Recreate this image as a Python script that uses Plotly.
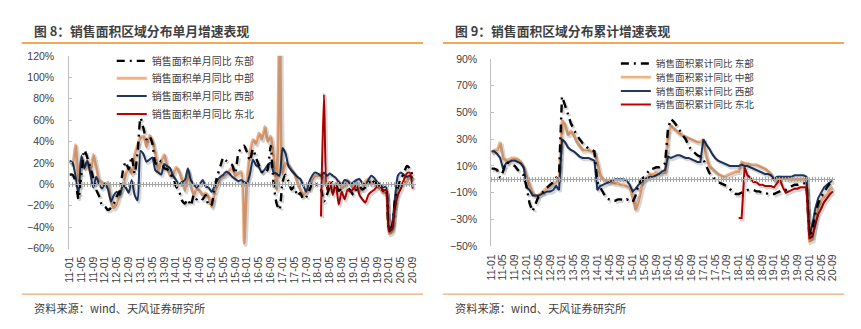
import plotly.graph_objects as go

# ---------------- data ----------------
months = [f"{y:02d}-{m:02d}" for y in range(11, 21) for m in range(1, 13)][:117]
tick_labels = ["11-01", "11-05", "11-09", "12-01", "12-05", "12-09", "13-01", "13-05", "13-09",
               "14-01", "14-05", "14-09", "15-01", "15-05", "15-09", "16-01", "16-05", "16-09",
               "17-01", "17-05", "17-09", "18-01", "18-05", "18-09", "19-01", "19-05", "19-09",
               "20-01", "20-05", "20-09"]

# monthly YoY (%)
east_m = [9, 9, 3, -14, 10, 32, 25, 16, 6, -5, -11, -20,
          -21, -24, -22, -18, -11, -6, 12, 21, 14, 26, 10, 30,
          62, 52, 42, 45, 38, 20, 18, 22, 15, 14, 10, 5,
          -2, -6, -15, -18, -14, -20, -10, -14, -12, -14, -10, -20,
          -19, -2, 8, 17, 25, 22, 20, 18, 10, 28, 34, 36,
          30, 22, 33, 25, 18, 12, 10, 14, 36, 0, -18, -24,
          2, 9, 3, -5, -2, -11, -8, -14, -12, -6, 0, 2,
          -3, -5, -16, -10, -2, 2, 0, -6, -4, 0, -2, -6,
          -10, -4, -2, -5, -3, 0, 5, 2, 0, -2, -6, -5,
          -42, -40, -15, -3, 5, 10, 17, 15, 8]
central_m = [20, 20, 37, 4, 25, 16, 22, 11, 28, 16, 4, 2,
             0, 2, -17, -22, -17, -7, -1, 10, 16, 10, 28, 37,
             44, 45, 35, 46, 40, 28, 12, 22, 28, 16, 8, 10,
             16, 12, 4, -6, 13, -2, -10, -4, -6, -10, -8, -12,
             -21, -8, 0, 6, 8, 10, 13, 16, 8, 10, 12, -55,
             5, 30, 42, 38, 48, 42, 54, 40, 45, 25, -5, 180,
             10, 20, 18, 14, 10, 2, -5, -10, -6, -3, 5, 8,
             8, 10, 4, -2, 2, -5, 0, 3, -4, -2, 4, 0,
             -4, 2, -6, -2, 3, 5, 0, 2, -2, -4, -8, -6,
             -46, -44, -20, -2, 0, 3, 2, 8, 5]
west_m = [22, 20, 8, -10, 27, 15, 22, 10, -3, 7, 0, -4,
          1, -5, -16, -10, -7, -10, -1, -3, -8, 4, -10, -15,
          31, 28, 21, 23, 25, 13, 11, 9, 19, 17, 15, 8,
          4, 0, 2, 4, 15, 4, 0, -3, 0, 4, -2, -3,
          -7, -2, 4, 7, 9, 12, 10, 7, 5, 3, 4, 2,
          1, 10, 23, 18, 16, 11, 14, 18, 20, 11, 10, 8,
          34, 29, 17, 13, 10, 7, 5, -1, -7, 2, 8, 11,
          10, 8, 11, 8, 10, 8, 6, 2, 0, 4, 3, 0,
          2, 4, 5, 1, 0, 4, 8, 6, 2, 0, -3, -2,
          -43, -38, -13, 8, 11, 9, 7, 8, 6]
ne_m = [None] * 85 + [-30, 84, -5, 2, -10, 1, -19, -7, -14, -5, -7,
                      -4, -1, -10, -14, -17, -10, -7, -5, -2, -1, -6, -5,
                      -44, -42, -22, -10, -4, 4, 10, 11, -4]

# cumulative YoY (%)
east_c = [8, 8, 7, 1, 6, 13, 12, 11, 10, 7, 5, 3,
          -6, -18, -24, -18, -13, -11, -8, -6, -4, -2, 1, 4,
          62, 56, 49, 42, 37, 33, 30, 27, 25, 23, 22, 21,
          -2, -6, -11, -14, -15, -16, -16, -15, -15, -16, -15, -16,
          -17, -12, -4, 0, 2, 5, 8, 8, 9, 9, 10, 12,
          38, 45, 43, 40, 36, 33, 30, 25, 22, 20, 18, 17,
          15, 10, 5, 2, 0, -2, -3, -4, -5, -7, -10, -11,
          -11, -10, -9, -8, -8, -8, -9, -9, -10, -10, -11, -11,
          -11, -10, -9, -8, -8, -6, -5, -4, -4, -3, -3, -3,
          -43, -38, -26, -18, -13, -9, -6, -3, -1]
central_c = [20, 22, 22, 28, 16, 14, 15, 16, 16, 15, 13, 9,
             2, -4, -10, -12, -12, -10, -8, -6, -4, -3, -2, 1,
             44, 41, 33, 36, 33, 28, 25, 22, 22, 22, 21, 20,
             13, 3, 0, -1, -2, -2, -3, -3, -4, -4, -5, -6,
             -14, -23, -16, -6, 0, 2, 4, 4, 5, 5, 5, 5,
             35, 40, 38, 36, 34, 33, 32, 31, 30, 29, 28, 28,
             30, 17, 10, 8, 6, 4, 3, 2, 3, 4, 5, 6,
             6, 13, 12, 12, 11, 11, 11, 10, 9, 8, 6, 4,
             0, 1, 2, 1, 1, 0, 0, 0, 0, 0, 0, 0,
             -46, -45, -30, -21, -16, -13, -11, -8, -6]
west_c = [21, 21, 19, 16, 8, 12, 13, 14, 14, 13, 12, 9,
          -6, -8, -12, -12, -12, -11, -10, -9, -9, -8, -5, -8,
          30, 28, 24, 22, 21, 19, 17, 16, 16, 16, 15, 14,
          -8, -5, -4, -3, -2, -1, 0, 0, 0, 0, -1, -4,
          -9, -7, -4, -2, 0, 1, 2, 2, 3, 4, 6, 7,
          17, 16, 17, 18, 18, 17, 16, 16, 15, 14, 13, 13,
          30, 26, 23, 19, 16, 14, 13, 12, 11, 10, 10, 10,
          10, 11, 10, 10, 9, 8, 7, 6, 5, 4, 4, 3,
          0, 2, 2, 2, 2, 2, 2, 3, 3, 3, 3, 2,
          -42, -34, -22, -14, -10, -6, -4, -2, -1]
ne_c = [None] * 84 + [-29, -29, 9, 3, 1, -2, -2, -4, -4, -5, -5, -5,
                      -6, -3, 0, -6, -10, -9, -8, -7, -7, -6, -6, -6,
                      -44, -43, -34, -26, -22, -17, -14, -11, -9]

left_names = ["销售面积单月同比 东部", "销售面积单月同比 中部", "销售面积单月同比 西部", "销售面积单月同比 东北"]
right_names = ["销售面积累计同比 东部", "销售面积累计同比 中部", "销售面积累计同比 西部", "销售面积累计同比 东北"]
left_ticks = [-60, -40, -20, 0, 20, 40, 60, 80, 100, 120]
right_ticks = [-50, -30, -10, 10, 30, 50, 70, 90]
titles = ["图 8：销售面积区域分布单月增速表现", "图 9：销售面积区域分布累计增速表现"]
source = "资料来源：wind、天风证券研究所"

# ---------------- styling ----------------
W, H = 861, 329
C_EAST, C_CEN, C_WEST, C_NE = "#000000", "#F4B183", "#1F3864", "#C00000"
CJK = "Noto Sans CJK SC"
LAT = "Liberation Sans, Arial"


def px(x):
    return x / W


def py(y):
    return 1 - y / H


L_dom_x = [px(63), px(414)]
L_dom_y = [py(251.7), py(51.7)]
R_dom_x = [px(490), px(838)]
R_dom_y = [py(249.3), py(55)]
L_rng = [-0.1, 117.2]
R_rng = [0, 116.8]
L_yr = [-60, 120]
R_yr = [-50, 90]

# shadow offsets (pixels right / down)
SH_DX, SH_DY = 1.5, 2.0
L_mpx = (L_dom_x[1] - L_dom_x[0]) * W / (L_rng[1] - L_rng[0])      # px per month
R_mpx = (R_dom_x[1] - R_dom_x[0]) * W / (R_rng[1] - R_rng[0])
L_vpx = (L_dom_y[1] - L_dom_y[0]) * H / (L_yr[1] - L_yr[0])         # px per %
R_vpx = (R_dom_y[1] - R_dom_y[0]) * H / (R_yr[1] - R_yr[0])

fig = go.Figure()

styles = [
    (C_EAST, 2.4, "8px,5px,2px,5px"),
    (C_CEN, 2.8, "solid"),
    (C_WEST, 2.0, "solid"),
    (C_NE, 2.0, "solid"),
]
draw_order = [1, 2, 0, 3]
left_series = [east_m, central_m, west_m, ne_m]
right_series = [east_c, central_c, west_c, ne_c]
left_legends = ["legend", "legend2", "legend3", "legend4"]
right_legends = ["legend5", "legend6", "legend7", "legend8"]

# soft drop shadows (drawn first, on offset overlay axes)
for k in draw_order:
    col, w, d = styles[k]
    fig.add_trace(go.Scatter(
        x=months, y=left_series[k], mode="lines", showlegend=False, hoverinfo="skip",
        line=dict(color="rgba(0,0,0,0.16)", width=w + 1, dash=d, shape="spline", smoothing=0.6),
        xaxis="x7", yaxis="y3"))
    fig.add_trace(go.Scatter(
        x=months, y=right_series[k], mode="lines", showlegend=False, hoverinfo="skip",
        line=dict(color="rgba(0,0,0,0.16)", width=w + 1, dash=d),
        xaxis="x8", yaxis="y4"))

for k in draw_order:
    col, w, d = styles[k]
    fig.add_trace(go.Scatter(
        x=months, y=left_series[k], name=left_names[k], mode="lines",
        line=dict(color=col, width=w, dash=d, shape="spline", smoothing=0.6),
        xaxis="x", yaxis="y", legend=left_legends[k],
        connectgaps=False, hoverinfo="skip"))

for k in draw_order:
    col, w, d = styles[k]
    fig.add_trace(go.Scatter(
        x=months, y=right_series[k], name=right_names[k], mode="lines",
        line=dict(color=col, width=w, dash=d),
        xaxis="x2", yaxis="y2", legend=right_legends[k],
        connectgaps=False, hoverinfo="skip"))

# dummy traces so the zero-line axes are drawn
for xa, ya in [("x3", "y"), ("x4", "y"), ("x5", "y2"), ("x6", "y2")]:
    fig.add_trace(go.Scatter(x=months, y=[None] * len(months), xaxis=xa, yaxis=ya,
                             showlegend=False, hoverinfo="skip", mode="lines"))


def zero_pos(dom, rng):
    return dom[0] + (0 - rng[0]) / (rng[1] - rng[0]) * (dom[1] - dom[0])


L_zero = zero_pos(L_dom_y, L_yr)
R_zero = zero_pos(R_dom_y, R_yr)

tickfont = dict(family=LAT, size=10.5, color="#404040")


def xmain(dom, rng, anchor):
    return dict(domain=dom, range=rng, type="category", categoryorder="array",
                categoryarray=months, tickmode="array", tickvals=tick_labels,
                ticktext=tick_labels, tickangle=-90, tickfont=tickfont,
                showline=False, showgrid=False, zeroline=False, ticks="",
                anchor=anchor, ticklabelstandoff=5)


def xzero(dom, rng, over, pos, side):
    return dict(domain=dom, range=rng, type="category", categoryorder="array",
                categoryarray=months, overlaying=over, anchor="free", position=pos,
                side=side, showline=True, linecolor="#A6A6A6", linewidth=1,
                ticks="outside", ticklen=2, tickwidth=1, tickcolor="#A6A6A6",
                tickmode="linear", dtick=1, showticklabels=False, showgrid=False,
                zeroline=False)


def xshadow(dom, rng, over, shift, anchor):
    return dict(domain=dom, range=[rng[0] - shift, rng[1] - shift], type="category",
                categoryorder="array", categoryarray=months, overlaying=over,
                anchor=anchor, visible=False)


def yshadow(dom, rng, over, shift, anchor):
    return dict(domain=dom, range=[rng[0] + shift, rng[1] + shift], overlaying=over,
                anchor=anchor, visible=False)


def ymain(dom, rng, ticks, anchor, standoff):
    return dict(domain=dom, range=rng, tickmode="array", tickvals=ticks,
                ticktext=[(f"{t}%" if t >= 0 else f"\u2212{abs(t)}%") for t in ticks],
                tickfont=tickfont, showline=True, linecolor="#BFBFBF", linewidth=1,
                ticks="inside", ticklen=3, tickcolor="#BFBFBF", showgrid=False,
                zeroline=False, anchor=anchor, ticklabelstandoff=standoff)


legend_font = dict(family=CJK, size=10, color="#404040")
legend_font_r = dict(family=CJK, size=9.6, color="#404040")

layout = dict(
    width=W, height=H, margin=dict(l=0, r=0, t=0, b=0),
    paper_bgcolor="white", plot_bgcolor="rgba(0,0,0,0)",
    xaxis=xmain(L_dom_x, L_rng, "y"),
    yaxis=ymain(L_dom_y, L_yr, left_ticks, "x", 12),
    xaxis2=xmain(R_dom_x, R_rng, "y2"),
    yaxis2=ymain(R_dom_y, R_yr, right_ticks, "x2", 11),
    xaxis3=xzero(L_dom_x, L_rng, "x", L_zero, "bottom"),
    xaxis4=xzero(L_dom_x, L_rng, "x", L_zero, "top"),
    xaxis5=xzero(R_dom_x, R_rng, "x2", R_zero, "bottom"),
    xaxis6=xzero(R_dom_x, R_rng, "x2", R_zero, "top"),
    xaxis7=xshadow(L_dom_x, L_rng, "x", SH_DX / L_mpx, "y3"),
    xaxis8=xshadow(R_dom_x, R_rng, "x2", SH_DX / R_mpx, "y4"),
    yaxis3=yshadow(L_dom_y, L_yr, "y", SH_DY / L_vpx, "x7"),
    yaxis4=yshadow(R_dom_y, R_yr, "y2", SH_DY / R_vpx, "x8"),
    showlegend=True,
)

l_item_y = [57, 75, 93.5, 112]
for name, yy in zip(left_legends, l_item_y):
    layout[name] = dict(x=px(106), y=py(yy), xanchor="left", yanchor="middle",
                        bgcolor="rgba(0,0,0,0)", font=legend_font, itemwidth=30)
r_item_y = [59.7, 73.9, 88.1, 102.3]
for name, yy in zip(right_legends, r_item_y):
    layout[name] = dict(x=px(616), y=py(yy), xanchor="left", yanchor="middle",
                        bgcolor="rgba(0,0,0,0)", font=legend_font_r, itemwidth=30)

fig.update_layout(**layout)

# titles, rules and source notes
for x0, x1, tx, title in [(15, 421, 25, titles[0]), (441, 847, 451, titles[1])]:
    fig.add_shape(type="line", xref="paper", yref="paper", x0=px(x0), x1=px(x1),
                  y0=py(38.5), y1=py(38.5), line=dict(color="#F08A1C", width=1.5))
    fig.add_shape(type="line", xref="paper", yref="paper", x0=px(x0), x1=px(x1),
                  y0=py(299), y1=py(299), line=dict(color="#E8964F", width=1))
    fig.add_annotation(xref="paper", yref="paper", x=px(tx), y=py(25), xanchor="left",
                       yanchor="middle", showarrow=False, text=f"<b>{title}</b>",
                       font=dict(family=CJK, size=12.8, color="#3F3F3F"))
    fig.add_annotation(xref="paper", yref="paper", x=px(tx), y=py(313), xanchor="left",
                       yanchor="middle", showarrow=False, text=source,
                       font=dict(family=CJK, size=11.2, color="#404040"))

fig.write_html("out.html")
